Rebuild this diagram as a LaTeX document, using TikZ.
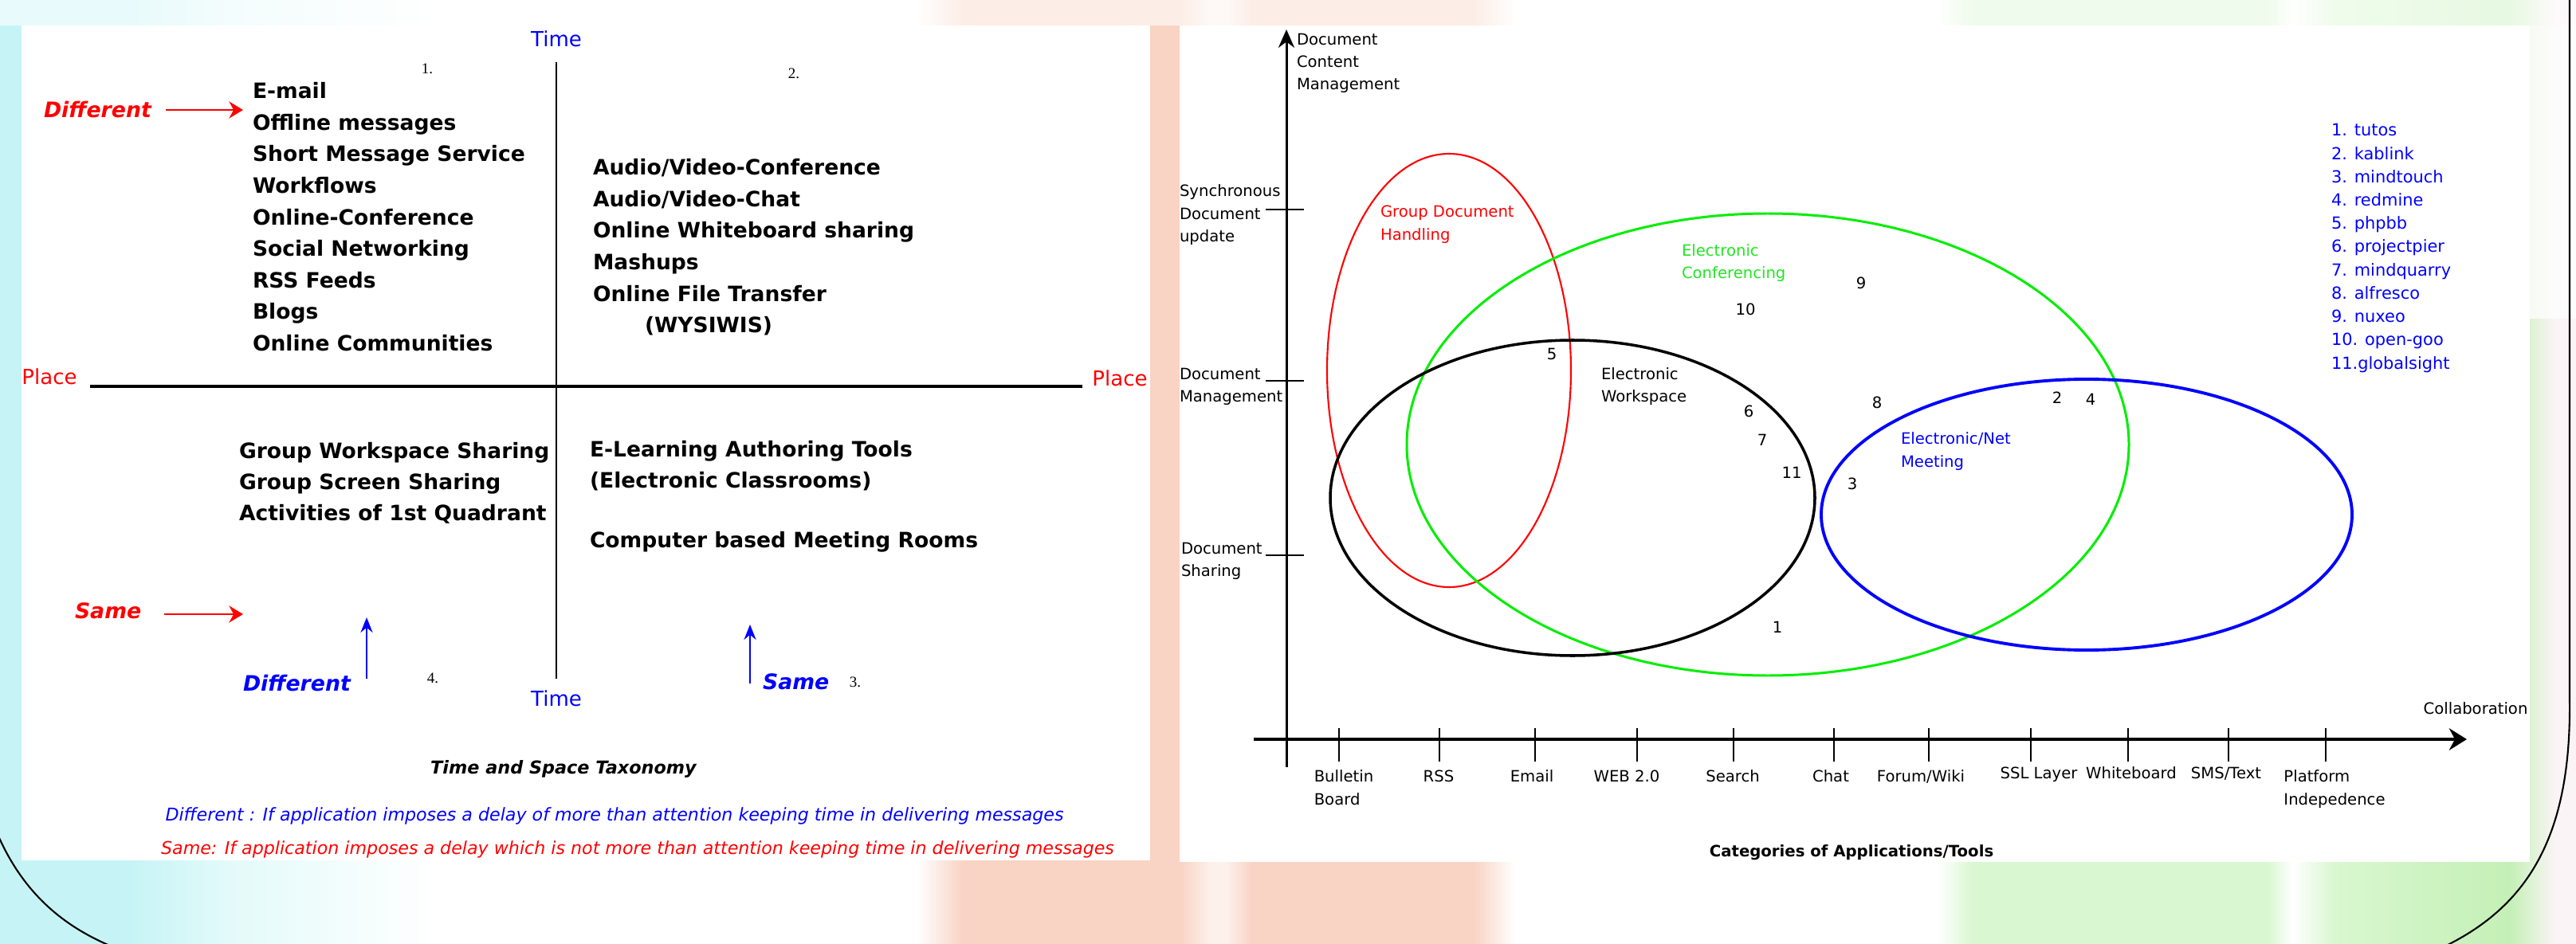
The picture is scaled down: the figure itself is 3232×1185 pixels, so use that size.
\documentclass[tikz,border=0pt]{standalone}
\usepackage{fontspec}
\setmainfont{DejaVu Sans}
\newfontfamily\quadfont{Liberation Serif}
\usetikzlibrary{arrows.meta, positioning, calc}

\definecolor{bgcyan}{HTML}{C6F4F6}
\definecolor{bgcyanl}{HTML}{E4FAFA}
\definecolor{bgpeach}{HTML}{F9D3C4}
\definecolor{bgpeachl}{HTML}{FDF1EC}
\definecolor{bggreen}{HTML}{D9F7D0}
\definecolor{bggreend}{HTML}{C4F0B6}
\definecolor{bgpink}{HTML}{FBF4F6}
\definecolor{confgreen}{HTML}{00EE00}
\definecolor{conftext}{HTML}{22E622}

\pgfdeclarehorizontalshading{slidebg}{100bp}{color(0bp)=(bgcyan); color(25bp)=(bgcyan); color(27.5bp)=(bgcyan); color(29.5bp)=(bgcyanl); color(33.5bp)=(white); color(42.8bp)=(white); color(43.7bp)=(bgpeach); color(47.9bp)=(bgpeach); color(48.5bp)=(bgpeachl); color(48.8bp)=(bgpeachl); color(49.3bp)=(bgpeach); color(53.6bp)=(bgpeach); color(54.4bp)=(white); color(62.6bp)=(white); color(63.3bp)=(bggreen); color(69.0bp)=(bggreen); color(69.5bp)=(white); color(70.3bp)=(bggreen); color(73.7bp)=(bggreend); color(74.6bp)=(bgpink); color(100bp)=(bgpink)}

\begin{document}
\begin{tikzpicture}[x=0.01cm, y=-0.01cm,
    every node/.style={inner sep=0pt, outer sep=0pt},
    bigitem/.style={anchor=base west, font=\fontsize{7.55pt}{9pt}\selectfont\bfseries},
    axisname/.style={font=\fontsize{7.4pt}{9pt}\selectfont},
    tagtext/.style={anchor=base west, font=\fontsize{7.6pt}{9pt}\selectfont\bfseries\itshape},
    quadno/.style={font=\quadfont\fontsize{5.4pt}{6pt}\selectfont},
    notetext/.style={font=\fontsize{6.3pt}{8pt}\selectfont\itshape},
    axfont/.style={font=\fontsize{5.58pt}{8.05pt}\selectfont},
    sidelabel/.style={axfont, align=left, anchor=north west},
    catlabel/.style={axfont, align=left, anchor=north},
    legitem/.style={anchor=base west, text=blue, font=\fontsize{5.95pt}{8pt}\selectfont},
    redarrow/.style={red, line width=0.85pt, -{Stealth[length=5pt, width=6pt]}},
    bluearrow/.style={blue, line width=0.6pt, -{Stealth[length=5.4pt, width=4.3pt]}}]

    \useasboundingbox (0,0) rectangle (3232,1185);
    \clip (0,0) rectangle (3232,1185);

    % slide background and frame
    \shade[shading=slidebg] (0,0) rectangle (3232,1185);
    \fill[white, opacity=0.6] (0,0) rectangle (3232,32);
    \fill[white, opacity=0.75] (3174,32) rectangle (3232,400);
    \draw[line width=0.6pt] (-10,1030) .. controls (20,1110) and (70,1160) .. (145,1190);
    \draw[line width=0.6pt] (3224,-5) -- (3224,880) .. controls (3226,1060) and (3165,1150) .. (3040,1200);
    \fill[white] (27,32) rectangle (1443,1080);
    \fill[white] (1480,32) rectangle (3174,1082);

    % left: time and place quadrants
    \node[axisname, text=blue] (timeN) at (698,49) {Time};
    \node[axisname, text=blue] (timeS) at (698,877) {Time};
    \node[axisname, text=red] (placeW) at (62,473) {Place};
    \node[axisname, text=red] (placeE) at (1405,475) {Place};
    \coordinate (tN) at (698,78);
    \coordinate (tS) at (698,852);
    \coordinate (pW) at (113,485);
    \coordinate (pE) at (1358,485);
    \draw[line width=0.6pt] (tN) -- (tS);
    \draw[line width=1.1pt] (pW) -- (pE);

    \node[quadno] (no1) at (536,86) {1.};
    \node[quadno] (no2) at (996,92) {2.};
    \node[quadno] (no3) at (1073,856) {3.};
    \node[quadno] (no4) at (543,851) {4.};

    \foreach \t [count=\i from 0] in {E-mail, Offline messages, Short Message Service, Workflows, Online-Conference, Social Networking, RSS Feeds, Blogs, Online Communities}
        \node[bigitem] (qa\i) at (317,124+39.5*\i) {\t};
    \foreach \t [count=\i from 0] in {Audio/Video-Conference, Audio/Video-Chat, Online Whiteboard sharing, Mashups, Online File Transfer}
        \node[bigitem] (qb\i) at (744,220+39.5*\i) {\t};
    \node[bigitem] (qb5) at (809,417) {(WYSIWIS)};
    \foreach \t [count=\i from 0] in {Group Workspace Sharing, Group Screen Sharing, Activities of 1st Quadrant}
        \node[bigitem] (qd\i) at (300,575+39*\i) {\t};
    \node[bigitem] (qc0) at (740,573) {E-Learning Authoring Tools};
    \node[bigitem] (qc1) at (740,612) {(Electronic Classrooms)};
    \node[bigitem] (qc2) at (740,687) {Computer based Meeting Rooms};

    % different / same markers
    \node[tagtext, text=red] (diffR) at (55,148) {Different};
    \node[tagtext, text=red] (sameR) at (94,776) {Same};
    \node[tagtext, text=blue] (diffB) at (305,867) {Different};
    \node[tagtext, text=blue] (sameB) at (957,865) {Same};
    \coordinate (dRa) at (208,138);
    \coordinate (dRb) at (305,138);
    \coordinate (sRa) at (206,771);
    \coordinate (sRb) at (305,771);
    \coordinate (dBa) at (460,852);
    \coordinate (dBb) at (460,775);
    \coordinate (sBa) at (941,858);
    \coordinate (sBb) at (941,784);
    \draw[redarrow] (dRa) -- (dRb);
    \draw[redarrow] (sRa) -- (sRb);
    \draw[bluearrow] (dBa) -- (dBb);
    \draw[bluearrow] (sBa) -- (sBb);

    \node[font=\fontsize{6.35pt}{8pt}\selectfont\bfseries\itshape] (taxo) at (707,965) {Time and Space Taxonomy};
    \node[notetext, text=blue] (noteD) at (771,1024) {Different : If application imposes a delay of more than attention keeping time in delivering messages};
    \node[notetext, text=red] (noteS) at (800,1066) {Same: If application imposes a delay which is not more than attention keeping time in delivering messages};

    % right: categories chart
    \coordinate (ya0) at (1614,963);
    \coordinate (ya1) at (1614,37);
    \coordinate (xa0) at (1573,928);
    \coordinate (xa1) at (3095,928);
    \draw[line width=0.85pt, -{Stealth[length=6.5pt, width=5.7pt]}] (ya0) -- (ya1);
    \draw[line width=1.4pt, -{Stealth[length=6.3pt, width=7.8pt]}] (xa0) -- (xa1);
    \foreach \x in {1680,1806,1926,2054,2175,2301,2420,2548,2670,2796,2918}
        \draw[line width=0.6pt] (\x,914) -- (\x,956);
    \foreach \y in {263,478,697}
        \draw[line width=0.85pt] (1588,\y) -- (1636,\y);

    \node[sidelabel] (ycm) at (1627,42) {Document\\Content\\Management};
    \node[sidelabel] (ysync) at (1480,232) {Synchronous\\Document\\update};
    \node[sidelabel] (ymgmt) at (1480,462) {Document\\Management};
    \node[sidelabel] (yshare) at (1482,681) {Document\\Sharing};

    \foreach \x/\t in {1686/{Bulletin\\Board}, 1805/RSS, 1922/Email, 2041/WEB 2.0, 2174/Search, 2297/Chat, 2410/{Forum/Wiki}, 2929/{Platform\\Indepedence}}
        \node[catlabel] (cat\x) at (\x,967) {\t};
    \foreach \x/\t in {2558/SSL Layer, 2674/Whiteboard, 2793/{SMS/Text}}
        \node[catlabel] (cat\x) at (\x,963) {\t};
    \node[axfont] (collab) at (3106,889) {Collaboration};
    \node[font=\fontsize{5.6pt}{8pt}\selectfont\bfseries] (cats) at (2323,1070) {Categories of Applications/Tools};

    % overlapping groups
    \draw[red, line width=0.6pt] (1818,465) ellipse [x radius=153, y radius=272];
    \draw[confgreen, line width=0.85pt] (2218,558) ellipse [x radius=453, y radius=290];
    \draw[black, line width=1pt] (1973,625) ellipse [x radius=304, y radius=198];
    \draw[blue, line width=1.1pt] (2618,646) ellipse [x radius=333, y radius=170];

    \node[axfont, anchor=base west, text=red] (gdh) at (1732,272) {Group Document};
    \node[axfont, anchor=base west, text=red] (gdh2) at (1732,301) {Handling};
    \node[axfont, anchor=base west, text=conftext] (ec) at (2110,322) {Electronic};
    \node[axfont, anchor=base west, text=conftext] (ec2) at (2110,350) {Conferencing};
    \node[axfont, anchor=base west] (ew) at (2009,476) {Electronic};
    \node[axfont, anchor=base west] (ew2) at (2009,504) {Workspace};
    \node[axfont, anchor=base west, text=blue] (enm) at (2385,557) {Electronic/Net};
    \node[axfont, anchor=base west, text=blue] (enm2) at (2385,586) {Meeting};

    \foreach \n/\x/\y in {1/2230/787, 2/2581/499, 3/2324/607, 4/2623/501, 5/1947/444, 6/2194/516, 7/2211/552, 8/2355/505, 9/2335/355, 10/2190/388, 11/2248/593}
        \node[axfont] (tool\n) at (\x,\y) {\n};

    \foreach \t [count=\i from 0] in {1. tutos, 2. kablink, 3. mindtouch, 4. redmine, 5. phpbb, 6. projectpier, 7. mindquarry, 8. alfresco, 9. nuxeo, 10. open-goo, 11.globalsight}
        \node[legitem] (leg\i) at (2925,171+29.2*\i) {\t};
\end{tikzpicture}
\end{document}
